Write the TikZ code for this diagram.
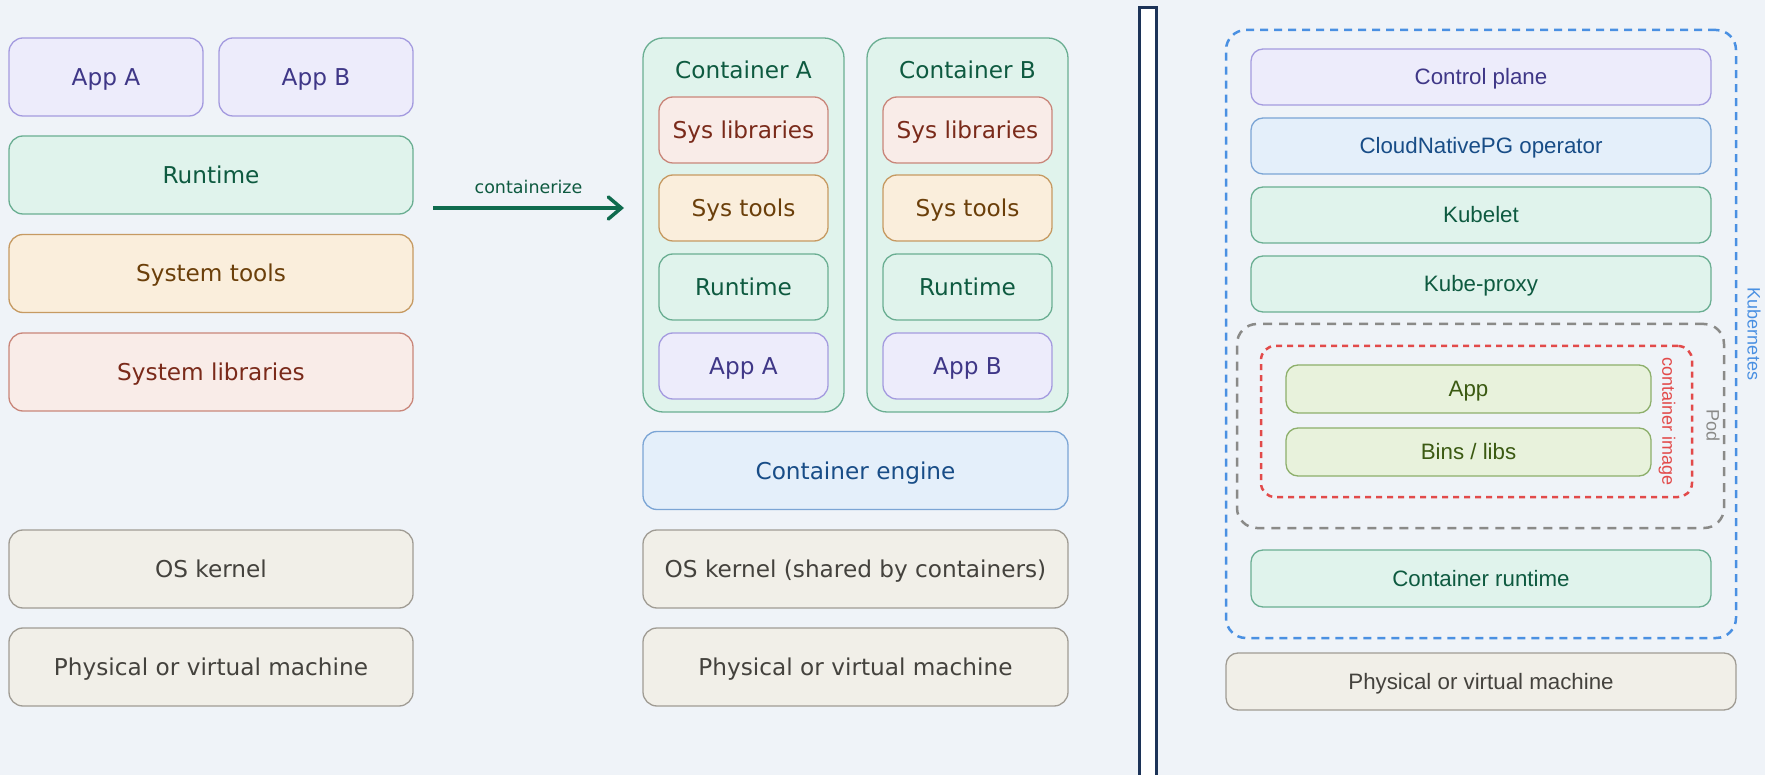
\documentclass[tikz,border=0pt]{standalone}
\usepackage{fontspec}
\setmainfont{DejaVu Sans}
\newfontfamily\arialfont{Liberation Sans}
\usetikzlibrary{arrows.meta}

% palette
\definecolor{bg}{HTML}{EFF3F8}
\definecolor{purF}{HTML}{EDECFB}\definecolor{purD}{HTML}{A49BDF}\definecolor{purT}{HTML}{3F3787}
\definecolor{grnF}{HTML}{E0F3EC}\definecolor{grnD}{HTML}{6AAE92}\definecolor{grnT}{HTML}{0E5A40}
\definecolor{orgF}{HTML}{FAEEDC}\definecolor{orgD}{HTML}{C69A62}\definecolor{orgT}{HTML}{6B3F0A}
\definecolor{redF}{HTML}{F9ECE8}\definecolor{redD}{HTML}{C9867A}\definecolor{redT}{HTML}{7A2A1A}
\definecolor{gryF}{HTML}{F1EFE8}\definecolor{gryD}{HTML}{A09C94}\definecolor{gryT}{HTML}{44423D}
\definecolor{bluF}{HTML}{E4EFFA}\definecolor{bluD}{HTML}{7BA5D5}\definecolor{bluT}{HTML}{184D87}
\definecolor{oliF}{HTML}{E8F2DC}\definecolor{oliD}{HTML}{8DAF6B}\definecolor{oliT}{HTML}{3B5A12}
\definecolor{arrowC}{HTML}{0F6B4E}
\definecolor{navy}{HTML}{1C3358}
\definecolor{kubeC}{HTML}{4A90E2}
\definecolor{podC}{HTML}{8A8A88}
\definecolor{imgC}{HTML}{E24A4A}

\tikzset{
  layer/.style={draw, rounded corners=14pt, line width=1.3pt, inner sep=0pt,
    align=center, font=\fontsize{23.2}{27}\selectfont, text height=17pt, text depth=0pt},
  klayer/.style={layer, rounded corners=12pt, font=\arialfont\fontsize{22.3}{26}\selectfont,
    text height=16pt, text depth=0pt},
  purple/.style={fill=purF, draw=purD, text=purT},
  green/.style={fill=grnF, draw=grnD, text=grnT},
  orange/.style={fill=orgF, draw=orgD, text=orgT},
  rose/.style={fill=redF, draw=redD, text=redT},
  stone/.style={fill=gryF, draw=gryD, text=gryT},
  sky/.style={fill=bluF, draw=bluD, text=bluT},
  olive/.style={fill=oliF, draw=oliD, text=oliT},
  wide/.style={minimum width=404pt, minimum height=78pt},
  midwide/.style={minimum width=425pt, minimum height=78pt},
  inner/.style={minimum width=169pt, minimum height=66pt},
  cbox/.style={layer, green, rounded corners=20pt, minimum width=201pt, minimum height=374pt},
  ctitle/.style={text=grnT, font=\fontsize{23.2}{27}\selectfont, text height=17pt, text depth=0pt, inner sep=0pt},
  kwide/.style={minimum width=460pt, minimum height=56pt},
  dashbox/.style={draw, rounded corners=20pt, line width=2.5pt, inner sep=0pt},
  sidelabel/.style={rotate=-90, font=\arialfont\fontsize{18}{20}\selectfont, inner sep=0pt},
}

\begin{document}
\begin{tikzpicture}[x=1pt, y=-1pt]
\path[use as bounding box, fill=bg] (0,0) rectangle (1765,775);

% ---------- traditional stack ----------
\node[layer, purple, minimum width=194pt, minimum height=78pt] (appA) at (106,77) {App A};
\node[layer, purple, minimum width=194pt, minimum height=78pt] (appB) at (316,77) {App B};
\node[layer, green, wide]  (rt)   at (211,175)   {Runtime};
\node[layer, orange, wide] (stl)  at (211,273.5) {System tools};
\node[layer, rose, wide]   (slib) at (211,372)   {System libraries};
\node[layer, stone, wide]  (os1)  at (211,569)   {OS kernel};
\node[layer, stone, wide]  (hw1)  at (211,667)   {Physical or virtual machine};

% ---------- containerize arrow ----------
\coordinate (arrS) at (433,208);
\coordinate (arrE) at (624,208);
\draw[arrowC, line width=3.5pt, -{Straight Barb[length=13pt, width=22pt, line cap=round]}]
  (arrS) -- node[above=9pt, text=grnT, font=\fontsize{17.5}{20}\selectfont] (arrL) {containerize} (arrE);

% ---------- containerised stack ----------
\node[cbox] (cA) at (743.5,225) {};
\node[cbox] (cB) at (967.5,225) {};
\node[ctitle] (cAt) at (743.5,70) {Container A};
\node[ctitle] (cBt) at (967.5,70) {Container B};

\node[layer, rose, inner]   (aLib) at (743.5,130) {Sys libraries};
\node[layer, orange, inner] (aTl)  at (743.5,208) {Sys tools};
\node[layer, green, inner]  (aRt)  at (743.5,287) {Runtime};
\node[layer, purple, inner] (aApp) at (743.5,366) {App A};

\node[layer, rose, inner]   (bLib) at (967.5,130) {Sys libraries};
\node[layer, orange, inner] (bTl)  at (967.5,208) {Sys tools};
\node[layer, green, inner]  (bRt)  at (967.5,287) {Runtime};
\node[layer, purple, inner] (bApp) at (967.5,366) {App B};

\node[layer, sky, midwide]   (eng) at (855.5,470.5) {Container engine};
\node[layer, stone, midwide] (os2) at (855.5,569)   {OS kernel (shared by containers)};
\node[layer, stone, midwide] (hw2) at (855.5,667)   {Physical or virtual machine};

% ---------- divider ----------
\node[draw=navy, fill=white, line width=3pt, minimum width=17pt, minimum height=782pt, inner sep=0pt]
  (divider) at (1148,399) {};

% ---------- Kubernetes node ----------
\node[dashbox, draw=kubeC, dash pattern=on 8pt off 6pt, minimum width=510pt, minimum height=608pt] (kube) at (1481,334) {};
\node[sidelabel, text=kubeC] (kubeL) at (1754,334) {Kubernetes};

\node[klayer, purple, kwide] (cp)   at (1481,77)  {Control plane};
\node[klayer, sky, kwide]    (cnpg) at (1481,146) {CloudNativePG operator};
\node[klayer, green, kwide]  (kl)   at (1481,215) {Kubelet};
\node[klayer, green, kwide]  (kp)   at (1481,284) {Kube-proxy};

\node[dashbox, draw=podC, dash pattern=on 9pt off 7pt, minimum width=487pt, minimum height=204pt] (pod) at (1480.5,426) {};
\node[sidelabel, text=podC] (podL) at (1713,426) {Pod};

\node[dashbox, draw=imgC, rounded corners=14pt, dash pattern=on 6pt off 5pt, minimum width=431pt, minimum height=151pt] (img) at (1476.5,421.5) {};
\node[sidelabel, text=imgC] (imgL) at (1667,421.5) {container image};

\node[klayer, olive, minimum width=365pt, minimum height=48pt] (kapp)  at (1468.5,389) {App};
\node[klayer, olive, minimum width=365pt, minimum height=48pt] (kbins) at (1468.5,452) {Bins / libs};

\node[klayer, green, kwide, minimum height=57pt] (crt) at (1481,578.5) {Container runtime};
\node[klayer, stone, minimum width=510pt, minimum height=57pt] (hw3) at (1481,681.5) {Physical or virtual machine};
\end{tikzpicture}
\end{document}
